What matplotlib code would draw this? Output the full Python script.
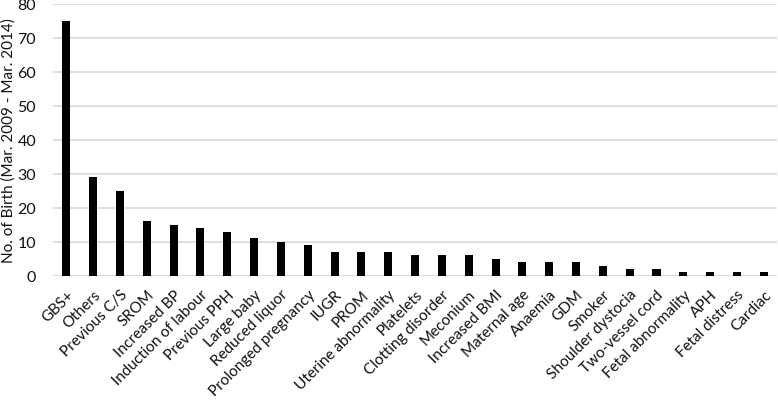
import matplotlib
matplotlib.use("Agg")
import matplotlib.pyplot as plt

categories = [
    "GBS+", "Others", "Previous C/S", "SROM", "Increased BP",
    "Induction of labour", "Previous PPH", "Large baby", "Reduced liquor",
    "Prolonged pregnancy", "IUGR", "PROM", "Uterine abnormality",
    "Platelets", "Clotting disorder", "Meconium", "Increased BMI",
    "Maternal age", "Anaemia", "GDM", "Smoker", "Shoulder dystocia",
    "Two-vessel cord", "Fetal abnormality", "APH", "Fetal distress", "Cardiac",
]
births = [75, 29, 25, 16, 15, 14, 13, 11, 10, 9, 7, 7, 7, 6, 6, 6, 5,
          4, 4, 4, 3, 2, 2, 1, 1, 1, 1]
y_ticks = [0, 10, 20, 30, 40, 50, 60, 70, 80]

plt.rcParams["font.family"] = ["Lato", "DejaVu Sans"]
TEXT = "#111111"

fig = plt.figure(figsize=(7.78, 4.06), dpi=100)
ax = fig.add_axes([0.068, 0.318, 0.931, 0.670])

xs = list(range(len(categories)))
ax.bar(xs, births, width=0.3, color="black", zorder=2)

ax.set_xlim(-0.5, len(categories) - 0.5)
ax.set_ylim(0, 80)
ax.set_yticks(y_ticks)
ax.yaxis.grid(True, color="#d9d9d9", linewidth=1.2, zorder=0)
ax.set_axisbelow(True)
for spine in ax.spines.values():
    spine.set_visible(False)
ax.axhline(0, color="#d9d9d9", linewidth=1.2, zorder=1)

ax.set_xticks(xs)
ax.set_xticklabels(categories, rotation=45, ha="right", rotation_mode="anchor",
                   fontsize=11, color=TEXT)
ax.tick_params(axis="both", length=0, labelsize=11.5, colors=TEXT)
ax.tick_params(axis="x", pad=8, labelsize=11)
ax.tick_params(axis="y", pad=12)
ax.set_ylabel("No. of Birth (Mar. 2009 - Mar. 2014)", fontsize=11, color=TEXT)
ax.yaxis.set_label_coords(-0.052, 0.5)

fig.savefig("out.png", dpi=100)
